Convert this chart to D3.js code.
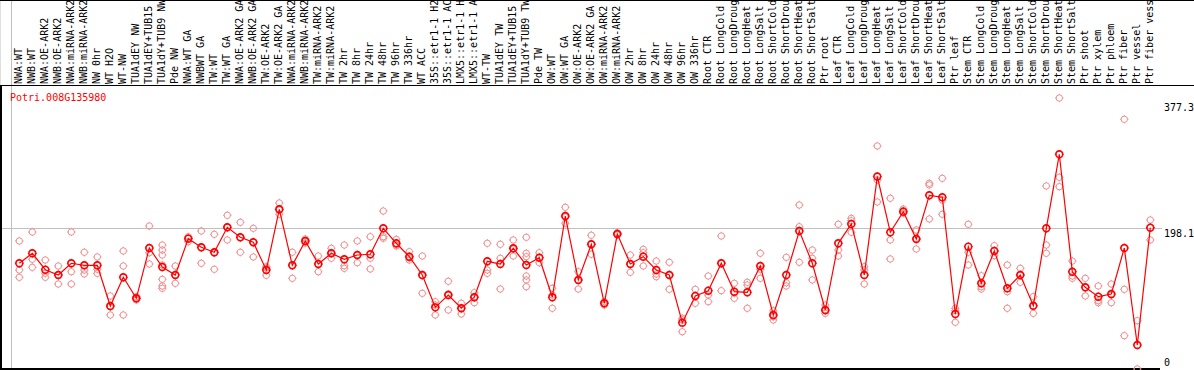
<!DOCTYPE html>
<html>
<head>
<meta charset="utf-8">
<script src="https://cdn.jsdelivr.net/npm/d3@7"></script>
<style>
  body { margin: 0; background: #fff; }
  svg { display: block; font-family: "DejaVu Sans Mono", monospace; font-size: 10px; }
</style>
</head>
<body>
<div id="chart"></div>
<script>
'use strict';

const gene = 'Potri.008G135980';

const samples = [
  'NWA:WT', 'NWB:WT', 'NWA:OE-ARK2', 'NWB:OE-ARK2', 'NWA:miRNA-ARK2', 'NWB:miRNA-ARK2',
  'NW 0hr', 'WT H2O', 'WT-NW', 'TUA1dEY NW', 'TUA1dEY+TUB15 NW', 'TUA1dY+TUB9 NW', 'Pde NW',
  'NWA:WT GA', 'NWBWT GA', 'TW:WT', 'TW:WT GA', 'NWA:OE-ARK2 GA', 'NWB:OE-ARK2 GA',
  'TW:OE-ARK2', 'TW:OE-ARK2 GA', 'NWA:miRNA-ARK2 GA', 'NWB:miRNA-ARK2 GA', 'TW:miRNA-ARK2',
  'TW:miRNA-ARK2 GA', 'TW 2hr', 'TW 8hr', 'TW 24hr', 'TW 48hr', 'TW 96hr', 'TW 336hr', 'WT ACC',
  '35S::etr1-1 H2O', '35S::etr1-1 ACC', 'LMX5::etr1-1 H2O', 'LMX5::etr1-1 ACC', 'WT-TW',
  'TUA1dEY TW', 'TUA1dEY+TUB15 TW', 'TUA1dY+TUB9 TW', 'Pde TW',
  'OW:WT', 'OW:WT GA', 'OW:OE-ARK2', 'OW:OE-ARK2 GA', 'OW:miRNA-ARK2', 'OW:miRNA-ARK2 GA',
  'OW 2hr', 'OW 8hr', 'OW 24hr', 'OW 48hr', 'OW 96hr', 'OW 336hr',
  'Root CTR', 'Root LongCold', 'Root LongDrought', 'Root LongHeat', 'Root LongSalt',
  'Root ShortCold', 'Root ShortDrought', 'Root ShortHeat', 'Root ShortSalt', 'Ptr root',
  'Leaf CTR', 'Leaf LongCold', 'Leaf LongDrought', 'Leaf LongHeat', 'Leaf LongSalt',
  'Leaf ShortCold', 'Leaf ShortDrought', 'Leaf ShortHeat', 'Leaf ShortSalt', 'Ptr leaf',
  'Stem CTR', 'Stem LongCold', 'Stem LongDrought', 'Stem LongHeat', 'Stem LongSalt',
  'Stem ShortCold', 'Stem ShortDrought', 'Stem ShortHeat', 'Stem ShortSalt', 'Ptr shoot', 'Ptr xylem',
  'Ptr phloem', 'Ptr fiber', 'Ptr vessel', 'Ptr fiber vessel'
];

// number of samples between the grey separators
const groupSizes = [13, 28, 12, 10, 10, 11, 1, 1, 1, 1];

const means = [
  148.9, 162.7, 140.0, 132.7, 148.9, 146.1, 146.1, 89.8, 129.5, 100.5, 170.0, 143.7, 132.7,
  182.9, 171.0, 164.1, 198.6, 184.8, 177.9, 139.6, 223.5, 146.1, 179.7, 147.9, 162.7, 154.4,
  160.3, 161.3, 197.2, 176.5, 158.0, 132.7, 88.0, 105.0, 86.7, 101.9, 151.6, 147.9, 169.6,
  146.5, 156.6,
  101.9, 214.2, 125.8, 175.1, 93.6, 189.3, 147.9, 158.0, 139.6, 132.7, 66.8, 103.7,
  111.0, 148.9, 109.6, 108.8, 145.1, 77.4, 132.7, 193.5, 148.9, 84.3,
  176.5, 203.2, 132.7, 268.8, 191.7, 220.2, 182.4, 242.8, 240.1, 78.8,
  171.8, 121.2, 165.9, 114.3, 132.7, 90.2, 197.2, 299.5, 137.2, 115.7, 102.7,
  106.4, 170.0, 35.9, 198.1
];

const replicates = [
  [179.7, 139.6, 129.5], [192.1, 154.4, 143.3], [153.4, 135.0, 129.5], [145.1, 132.7, 120.2],
  [192.1, 137.2, 120.2], [164.1, 139.6, 134.1], [157.6, 140.6, 135.0], [103.7, 88.9, 77.4],
  [165.9, 145.1, 77.4], [102.7, 100.5, 98.1], [200.4, 163.5, 147.9],
  [174.1, 167.2, 160.3, 146.5, 126.7, 117.5, 114.3], [145.1, 132.7, 121.2],
  [185.6, 183.8, 178.7], [193.5, 170.7, 148.9], [188.9, 163.1, 140.6], [215.2, 199.0, 181.1],
  [205.5, 184.8, 164.1], [197.2, 178.3, 157.6], [144.2, 142.4, 132.3], [232.2, 222.5, 216.6],
  [164.1, 146.1, 128.1], [182.4, 179.7, 176.9], [158.9, 147.9, 137.2], [169.6, 163.1, 155.8],
  [174.1, 145.5, 141.9], [179.7, 160.3, 149.7], [185.6, 155.8, 141.0], [221.1, 185.6, 183.4],
  [182.0, 174.1, 172.8], [164.9, 156.2, 153.4], [158.9, 131.7, 107.4], [95.8, 91.2, 77.4],
  [124.0, 106.4, 84.3], [93.6, 87.1, 78.8], [108.2, 102.3, 94.4], [176.5, 139.6, 135.0],
  [175.1, 155.8, 113.3], [181.1, 168.6, 158.9], [184.8, 162.7, 158.0, 131.3, 125.8, 116.5],
  [163.5, 156.6, 149.7],
  [114.3, 105.0, 86.7], [226.2, 212.8, 204.1], [137.2, 125.8, 113.3], [187.6, 175.5, 161.3],
  [95.8, 93.6, 91.2], [191.1, 189.3, 188.0], [160.3, 147.9, 136.4], [168.2, 163.5, 145.1],
  [152.0, 134.1, 130.3], [150.2, 132.7, 112.9], [72.8, 70.5, 54.3], [112.9, 103.7, 93.6],
  [131.3, 105.0, 95.8], [186.6, 148.9, 111.0], [121.2, 107.4, 100.5], [122.6, 118.9, 86.7],
  [162.7, 140.6, 128.1], [83.3, 75.0, 70.5], [157.1, 122.0, 117.5], [229.4, 199.4, 150.2],
  [167.2, 155.8, 125.8], [91.2, 82.9, 79.7],
  [202.8, 167.2, 158.9], [211.0, 207.7, 191.7], [144.2, 139.6, 120.2], [311.0, 264.0, 233.6],
  [238.7, 181.1, 154.8], [223.9, 221.5, 218.0], [194.9, 183.4, 168.6], [259.4, 257.1, 210.1],
  [266.3, 236.3, 216.6], [86.7, 83.3, 67.3],
  [202.8, 164.1, 146.5], [131.7, 116.5, 113.3], [173.2, 165.9, 159.4], [146.5, 109.6, 86.7],
  [141.9, 132.7, 122.6], [102.7, 89.8, 79.7], [255.7, 174.1, 162.7], [377.3, 267.7, 254.7],
  [152.0, 131.3, 128.1], [128.1, 115.7, 103.7], [117.5, 97.2, 94.4],
  [120.2, 105.0, 94.4], [347.9, 112.9, 48.8], [69.5, 2.8], [208.7, 198.1, 181.1]
];

const yTicks = [0, 198.1, 377.3];

const W = 1194, H = 370;
const headerH = 85;
const yMax = d3.max(yTicks);

const svg = d3.select('#chart').append('svg')
  .attr('width', W)
  .attr('height', H);

const x = d3.scaleBand()
  .domain(d3.range(samples.length))
  .range([11, 11 + samples.length * 13]);
const cx = i => x(i) + 8.3;
const edge = i => x.range()[0] + i * x.step();

const y = d3.scaleLinear().domain([0, yMax]).range([371, 98]);

// grey separators between sample groups
const bounds = [0].concat(d3.cumsum(groupSizes));
svg.append('g').selectAll('line').data(bounds).enter().append('line')
  .attr('x1', d => edge(d) + 0.5).attr('x2', d => edge(d) + 0.5)
  .attr('y1', 0).attr('y2', H)
  .attr('stroke', '#c0c0c0');

// reference line at the control level
svg.append('line')
  .attr('x1', 0).attr('x2', 1162)
  .attr('y1', Math.round(y(198.1)) + 0.5).attr('y2', Math.round(y(198.1)) + 0.5)
  .attr('stroke', '#c0c0c0');

// frame
svg.append('line').attr('x1', 0).attr('x2', W).attr('y1', 0.5).attr('y2', 0.5).attr('stroke', '#000');
svg.append('line').attr('x1', 0).attr('x2', W).attr('y1', headerH + 0.5).attr('y2', headerH + 0.5).attr('stroke', '#000');
svg.append('rect').attr('x', 0).attr('y', headerH).attr('width', 2).attr('height', H - headerH).attr('fill', '#000');
svg.append('rect').attr('x', 0).attr('y', 368).attr('width', 1160).attr('height', 2).attr('fill', '#000');

// sample names, rotated
svg.append('g').selectAll('text').data(samples).enter().append('text')
  .attr('transform', (d, i) => 'translate(' + (cx(i) + 3) + ',' + (headerH - 1) + ') rotate(-90)')
  .attr('fill', '#000')
  .text(d => d);

svg.append('text')
  .attr('x', 10).attr('y', 101)
  .attr('fill', '#ff0000')
  .text(gene);

svg.append('g').selectAll('text').data(yTicks).enter().append('text')
  .attr('x', 1164)
  .attr('y', d => Math.min(y(d) + (d === yMax ? 13 : 9), H - 4))
  .attr('fill', '#000')
  .text(d => d);

function marker(sel, r, color, width) {
  sel.append('circle')
    .attr('r', r)
    .attr('fill', 'none')
    .attr('stroke', color)
    .attr('stroke-width', width);
  sel.append('path')
    .attr('d', 'M' + (-r - 1) + ',0h1.2M' + (r - 0.2) + ',0h1.2M0,' + (-r - 1) + 'v1.2M0,' + (r - 0.2) + 'v1.2')
    .attr('stroke', color)
    .attr('stroke-width', 1);
}

// individual replicates
const reps = [];
replicates.forEach((list, i) => list.forEach(v => reps.push({ i: i, v: v })));
svg.append('g').selectAll('g').data(reps).enter().append('g')
  .attr('transform', d => 'translate(' + cx(d.i) + ',' + y(d.v) + ')')
  .call(marker, 3.2, '#f09090', 1);

// mean line
const line = d3.line()
  .x((d, i) => cx(i))
  .y(d => y(d));
svg.append('path')
  .datum(means)
  .attr('d', line)
  .attr('fill', 'none')
  .attr('stroke', '#ff0000')
  .attr('stroke-width', 1.2);

svg.append('g').selectAll('g').data(means).enter().append('g')
  .attr('transform', (d, i) => 'translate(' + cx(i) + ',' + y(d) + ')')
  .call(marker, 3.4, '#ff0000', 1.6);
</script>
</body>
</html>
